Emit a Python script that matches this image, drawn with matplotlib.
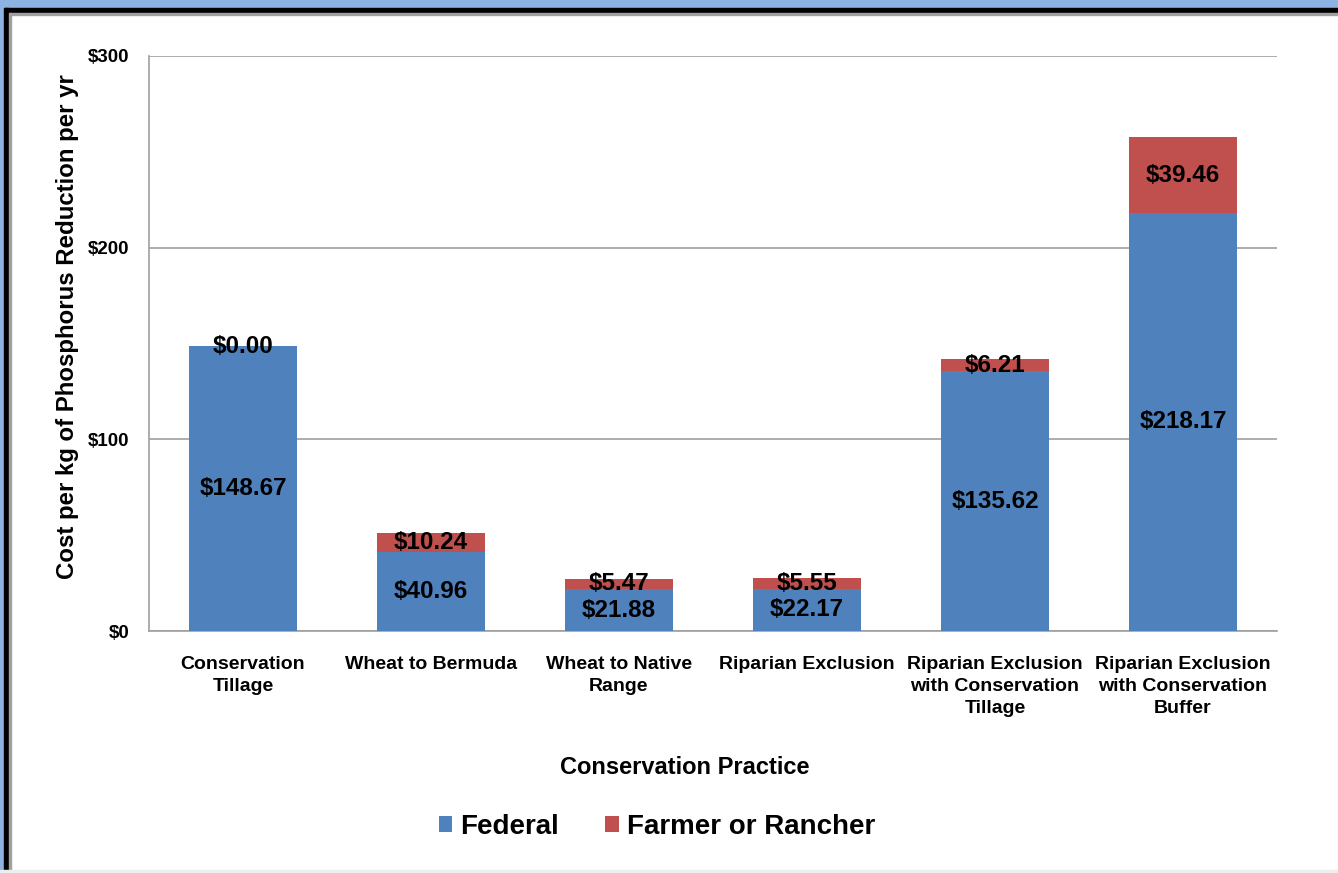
import matplotlib.pyplot as plt
from matplotlib.patches import Rectangle

plt.rcParams['font.family'] = ['Liberation Sans', 'DejaVu Sans']
plt.rcParams['font.weight'] = 'bold'

# cost per kg of phosphorus reduction, by practice
practices = ["Conservation\nTillage", "Wheat to Bermuda", "Wheat to Native\nRange",
             "Riparian Exclusion", "Riparian Exclusion\nwith Conservation\nTillage",
             "Riparian Exclusion\nwith Conservation\nBuffer"]
federal = [148.67, 40.96, 21.88, 22.17, 135.62, 218.17]
farmer = [0.00, 10.24, 5.47, 5.55, 6.21, 39.46]
yticks = [0, 100, 200, 300]

blue = "#4F81BD"
red = "#C0504D"
W, H = 1338, 873

fig = plt.figure(figsize=(W / 100, H / 100), dpi=100)
ax = fig.add_axes([149 / W, 1 - 631 / H, (1277 - 149) / W, (631 - 56) / H])

x = range(len(practices))
ax.bar(x, federal, width=0.575, color=blue, label="Federal", zorder=3)
ax.bar(x, farmer, width=0.575, bottom=federal, color=red, label="Farmer or Rancher", zorder=3)

for i in x:
    ax.text(i, federal[i] / 2, "${:.2f}".format(federal[i]), ha="center", va="center",
            fontsize=17.5, fontweight="bold", zorder=4)
    ax.text(i, federal[i] + farmer[i] / 2, "${:.2f}".format(farmer[i]), ha="center",
            va="center", fontsize=17.5, fontweight="bold", zorder=4)

ax.set_xlim(-0.5, 5.5)
ax.set_ylim(0, 300)
ax.set_yticks(yticks)
ax.set_yticklabels(["${}".format(v) for v in yticks], fontsize=13.5, fontweight="bold")
ax.set_xticks(list(x))
ax.set_xticklabels(practices, fontsize=14, fontweight="bold", linespacing=1.4)
ax.tick_params(axis="y", length=0, pad=14)
ax.tick_params(axis="x", length=0, pad=18)
ax.yaxis.grid(True, color="#a0a0a0", linewidth=1.2, zorder=0)

for s in ["top", "right"]:
    ax.spines[s].set_visible(False)
ax.spines["left"].set_color("#a0a0a0")
ax.spines["bottom"].set_color("#a0a0a0")
ax.spines["left"].set_linewidth(1.2)
ax.spines["bottom"].set_linewidth(1.2)

ax.set_ylabel("Cost per kg of Phosphorus Reduction per yr", fontsize=17.3,
              fontweight="bold", va="center")
ax.yaxis.set_label_coords(-(149 - 68) / (1277 - 149), (631 - 327) / (631 - 56))
fig.text(685 / W, 1 - 768 / H, "Conservation Practice", ha="center", va="center",
         fontsize=17, fontweight="bold")

fig.legend(loc="center", bbox_to_anchor=(657 / W, 1 - 827 / H), ncol=2, frameon=False,
           prop={"size": 20, "weight": "bold"}, handlelength=0.48, handleheight=0.48,
           handletextpad=0.3, columnspacing=1.65)

# window frame around the chart
def band(x0, y0, w, h, c):
    fig.patches.append(Rectangle((x0 / W, 1 - (y0 + h) / H), w / W, h / H,
                                 transform=fig.transFigure, color=c, zorder=10))

band(0, 0, W, 8, "#8DB3E2")
band(0, 8, W, 4, "black")
band(0, 13, W, 2, "#a0a0a0")
band(0, 0, 4, H, "#8DB3E2")
band(4, 8, 4, H, "black")
band(9, 13, 2, H, "#a0a0a0")
band(0, 870, W, 3, "#eeeeee")

fig.savefig("out.png", dpi=100)
